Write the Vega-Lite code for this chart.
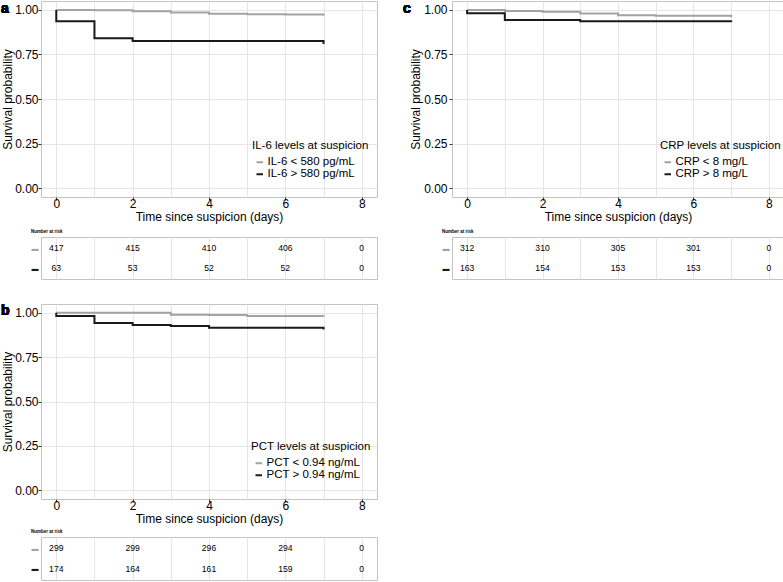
{
  "$schema": "https://vega.github.io/schema/vega-lite/v6.json",
  "padding": 0,
  "autosize": {"type": "pad"},
  "background": "white",
  "config": {
    "font": "Liberation Sans",
    "view": {"stroke": "#c4c4c4", "strokeWidth": 1},
    "axis": {"gridColor": "#e6e6e6", "gridWidth": 1, "domain": false, "tickColor": "#333333", "tickSize": 3, "labelColor": "#000000", "titleColor": "#000000", "labelFont": "Liberation Sans", "titleFont": "Liberation Sans", "labelFontSize": 12, "titleFontSize": 12, "titleFontWeight": "normal", "labelOverlap": false, "labelFlush": false},
    "legend": {"orient": "none", "padding": 0, "titleFont": "Liberation Sans", "labelFont": "Liberation Sans", "titleFontSize": 11.5, "labelFontSize": 11.5, "titleFontWeight": "normal", "titleColor": "#000000", "labelColor": "#000000", "symbolType": "stroke", "symbolStrokeWidth": 2, "symbolSize": 42, "rowPadding": -1.5, "titlePadding": 5, "labelOffset": 2, "symbolOffset": 2},
    "title": {"font": "Liberation Sans", "fontSize": 4.5, "fontWeight": "bold", "color": "#000000", "anchor": "start", "offset": 4}
  },
  "datasets": {
    "survA": [
      {"g": "IL-6 < 580 pg/mL", "t": 0, "s": 1.0, "i": 0},
      {"g": "IL-6 < 580 pg/mL", "t": 1, "s": 0.9976, "i": 1},
      {"g": "IL-6 < 580 pg/mL", "t": 2, "s": 0.993, "i": 2},
      {"g": "IL-6 < 580 pg/mL", "t": 3, "s": 0.985, "i": 3},
      {"g": "IL-6 < 580 pg/mL", "t": 4, "s": 0.978, "i": 4},
      {"g": "IL-6 < 580 pg/mL", "t": 5, "s": 0.975, "i": 5},
      {"g": "IL-6 < 580 pg/mL", "t": 6, "s": 0.9736, "i": 6},
      {"g": "IL-6 < 580 pg/mL", "t": 7, "s": 0.972, "i": 7},
      {"g": "IL-6 < 580 pg/mL", "t": 7, "s": 0.967, "i": 8},
      {"g": "IL-6 > 580 pg/mL", "t": 0, "s": 1.0, "i": 0},
      {"g": "IL-6 > 580 pg/mL", "t": 0, "s": 0.937, "i": 1},
      {"g": "IL-6 > 580 pg/mL", "t": 1, "s": 0.841, "i": 2},
      {"g": "IL-6 > 580 pg/mL", "t": 2, "s": 0.825, "i": 3},
      {"g": "IL-6 > 580 pg/mL", "t": 7, "s": 0.825, "i": 4},
      {"g": "IL-6 > 580 pg/mL", "t": 7, "s": 0.808, "i": 5}
    ],
    "riskA": [
      {"g": "IL-6 < 580 pg/mL", "t": 0, "n": 417},
      {"g": "IL-6 < 580 pg/mL", "t": 2, "n": 415},
      {"g": "IL-6 < 580 pg/mL", "t": 4, "n": 410},
      {"g": "IL-6 < 580 pg/mL", "t": 6, "n": 406},
      {"g": "IL-6 < 580 pg/mL", "t": 8, "n": 0},
      {"g": "IL-6 > 580 pg/mL", "t": 0, "n": 63},
      {"g": "IL-6 > 580 pg/mL", "t": 2, "n": 53},
      {"g": "IL-6 > 580 pg/mL", "t": 4, "n": 52},
      {"g": "IL-6 > 580 pg/mL", "t": 6, "n": 52},
      {"g": "IL-6 > 580 pg/mL", "t": 8, "n": 0}
    ],
    "survC": [
      {"g": "CRP < 8 mg/L", "t": 0, "s": 1.0, "i": 0},
      {"g": "CRP < 8 mg/L", "t": 1, "s": 0.9944, "i": 1},
      {"g": "CRP < 8 mg/L", "t": 2, "s": 0.989, "i": 2},
      {"g": "CRP < 8 mg/L", "t": 3, "s": 0.98, "i": 3},
      {"g": "CRP < 8 mg/L", "t": 4, "s": 0.97, "i": 4},
      {"g": "CRP < 8 mg/L", "t": 5, "s": 0.967, "i": 5},
      {"g": "CRP < 8 mg/L", "t": 7, "s": 0.967, "i": 6},
      {"g": "CRP < 8 mg/L", "t": 7, "s": 0.959, "i": 7},
      {"g": "CRP > 8 mg/L", "t": 0, "s": 1.0, "i": 0},
      {"g": "CRP > 8 mg/L", "t": 0, "s": 0.981, "i": 1},
      {"g": "CRP > 8 mg/L", "t": 1, "s": 0.944, "i": 2},
      {"g": "CRP > 8 mg/L", "t": 3, "s": 0.937, "i": 3},
      {"g": "CRP > 8 mg/L", "t": 7, "s": 0.937, "i": 4},
      {"g": "CRP > 8 mg/L", "t": 7, "s": 0.932, "i": 5}
    ],
    "riskC": [
      {"g": "CRP < 8 mg/L", "t": 0, "n": 312},
      {"g": "CRP < 8 mg/L", "t": 2, "n": 310},
      {"g": "CRP < 8 mg/L", "t": 4, "n": 305},
      {"g": "CRP < 8 mg/L", "t": 6, "n": 301},
      {"g": "CRP < 8 mg/L", "t": 8, "n": 0},
      {"g": "CRP > 8 mg/L", "t": 0, "n": 163},
      {"g": "CRP > 8 mg/L", "t": 2, "n": 154},
      {"g": "CRP > 8 mg/L", "t": 4, "n": 153},
      {"g": "CRP > 8 mg/L", "t": 6, "n": 153},
      {"g": "CRP > 8 mg/L", "t": 8, "n": 0}
    ],
    "survB": [
      {"g": "PCT < 0.94 ng/mL", "t": 0, "s": 1.0, "i": 0},
      {"g": "PCT < 0.94 ng/mL", "t": 3, "s": 0.99, "i": 1},
      {"g": "PCT < 0.94 ng/mL", "t": 4, "s": 0.988, "i": 2},
      {"g": "PCT < 0.94 ng/mL", "t": 5, "s": 0.983, "i": 3},
      {"g": "PCT < 0.94 ng/mL", "t": 7, "s": 0.983, "i": 4},
      {"g": "PCT < 0.94 ng/mL", "t": 7, "s": 0.979, "i": 5},
      {"g": "PCT > 0.94 ng/mL", "t": 0, "s": 1.0, "i": 0},
      {"g": "PCT > 0.94 ng/mL", "t": 0, "s": 0.983, "i": 1},
      {"g": "PCT > 0.94 ng/mL", "t": 1, "s": 0.943, "i": 2},
      {"g": "PCT > 0.94 ng/mL", "t": 2, "s": 0.931, "i": 3},
      {"g": "PCT > 0.94 ng/mL", "t": 3, "s": 0.926, "i": 4},
      {"g": "PCT > 0.94 ng/mL", "t": 4, "s": 0.916, "i": 5},
      {"g": "PCT > 0.94 ng/mL", "t": 7, "s": 0.916, "i": 6},
      {"g": "PCT > 0.94 ng/mL", "t": 7, "s": 0.906, "i": 7}
    ],
    "riskB": [
      {"g": "PCT < 0.94 ng/mL", "t": 0, "n": 299},
      {"g": "PCT < 0.94 ng/mL", "t": 2, "n": 299},
      {"g": "PCT < 0.94 ng/mL", "t": 4, "n": 296},
      {"g": "PCT < 0.94 ng/mL", "t": 6, "n": 294},
      {"g": "PCT < 0.94 ng/mL", "t": 8, "n": 0},
      {"g": "PCT > 0.94 ng/mL", "t": 0, "n": 174},
      {"g": "PCT > 0.94 ng/mL", "t": 2, "n": 164},
      {"g": "PCT > 0.94 ng/mL", "t": 4, "n": 161},
      {"g": "PCT > 0.94 ng/mL", "t": 6, "n": 159},
      {"g": "PCT > 0.94 ng/mL", "t": 8, "n": 0}
    ]
  },
  "resolve": {"scale": {"x": "independent", "y": "independent", "color": "independent"}, "legend": {"color": "independent"}},
  "align": "each",
  "spacing": 23,
  "vconcat": [
    {
      "resolve": {"scale": {"x": "independent", "y": "independent", "color": "independent"}, "legend": {"color": "independent"}},
      "align": "each",
      "spacing": 24,
      "hconcat": [
        {
          "resolve": {"scale": {"x": "independent", "y": "independent", "color": "independent"}, "legend": {"color": "independent"}},
          "align": "each",
          "spacing": 5,
          "vconcat": [
            {
              "width": 336, "height": 196,
              "data": {"name": "survA"},
              "layer": [
                {
                  "mark": {"type": "line", "interpolate": "step-after", "strokeWidth": 2},
                  "encoding": {
                    "x": {"field": "t", "type": "quantitative", "scale": {"domain": [-0.4, 8.4], "nice": false, "zero": false},
                      "axis": {"values": [0,1,2,3,4,5,6,7,8], "labelExpr": "datum.value % 2 == 0 ? datum.label : ''", "tickOpacity": {"condition": {"test": "datum.value % 2 == 1", "value": 0}, "value": 1}, "labelPadding": -1.5, "titlePadding": 2, "title": "Time since suspicion (days)"}},
                    "y": {"field": "s", "type": "quantitative", "scale": {"domain": [-0.05, 1.05], "nice": false, "zero": false},
                      "axis": {"values": [0,0.125,0.25,0.375,0.5,0.625,0.75,0.875,1], "format": ".2f", "labelExpr": "(datum.value*4) % 1 == 0 ? datum.label : ''", "tickOpacity": {"condition": {"test": "(datum.value*4) % 1 != 0", "value": 0}, "value": 1}, "labelPadding": 0, "titlePadding": 0, "title": "Survival probability"}},
                    "color": {"field": "g", "type": "nominal", "scale": {"domain": ["IL-6 < 580 pg/mL", "IL-6 > 580 pg/mL"], "range": ["#a3a3a3", "#1a1a1a"]},
                      "legend": {"title": "IL-6 levels at suspicion", "legendX": 211, "legendY": 139}},
                    "order": {"field": "i", "type": "quantitative"}
                  }
                },
                {
                  "mark": {"type": "text", "text": "a", "fontSize": 14, "fontWeight": "bold", "align": "left", "baseline": "alphabetic", "dx": -40, "dy": 12, "color": "#000000"},
                  "encoding": {"x": {"datum": -0.4}, "y": {"datum": 1.05}}
                }
              ]
            },
            {
              "width": 336, "height": 42,
              "title": {"text": "Number at risk"},
              "data": {"name": "riskA"},
              "mark": {"type": "text", "fontSize": 8.6, "color": "#000000"},
              "encoding": {
                "x": {"field": "t", "type": "quantitative", "scale": {"domain": [-0.4, 8.4], "nice": false, "zero": false},
                  "axis": {"values": [0,1,2,3,4,5,6,7,8], "labels": false, "ticks": false, "title": null}},
                "y": {"field": "g", "type": "nominal", "scale": {"type": "point", "padding": 0.55, "domain": ["IL-6 < 580 pg/mL", "IL-6 > 580 pg/mL"]},
                  "axis": {"labelExpr": "'▬'", "labelFontSize": 7, "labelColor": {"condition": {"test": "indexof(datum.value, '<') >= 0", "value": "#a3a3a3"}, "value": "#1a1a1a"}, "ticks": false, "labelPadding": 3, "title": null}},
                "text": {"field": "n", "type": "quantitative"}
              }
            }
          ]
        },
        {
          "resolve": {"scale": {"x": "independent", "y": "independent", "color": "independent"}, "legend": {"color": "independent"}},
          "align": "each",
          "spacing": 5,
          "vconcat": [
            {
              "width": 332, "height": 196,
              "data": {"name": "survC"},
              "layer": [
                {
                  "mark": {"type": "line", "interpolate": "step-after", "strokeWidth": 2},
                  "encoding": {
                    "x": {"field": "t", "type": "quantitative", "scale": {"domain": [-0.4, 8.4], "nice": false, "zero": false},
                      "axis": {"values": [0,1,2,3,4,5,6,7,8], "labelExpr": "datum.value % 2 == 0 ? datum.label : ''", "tickOpacity": {"condition": {"test": "datum.value % 2 == 1", "value": 0}, "value": 1}, "labelPadding": -1.5, "titlePadding": 2, "title": "Time since suspicion (days)"}},
                    "y": {"field": "s", "type": "quantitative", "scale": {"domain": [-0.05, 1.05], "nice": false, "zero": false},
                      "axis": {"values": [0,0.125,0.25,0.375,0.5,0.625,0.75,0.875,1], "format": ".2f", "labelExpr": "(datum.value*4) % 1 == 0 ? datum.label : ''", "tickOpacity": {"condition": {"test": "(datum.value*4) % 1 != 0", "value": 0}, "value": 1}, "labelPadding": 2, "titlePadding": 1, "title": "Survival probability"}},
                    "color": {"field": "g", "type": "nominal", "scale": {"domain": ["CRP < 8 mg/L", "CRP > 8 mg/L"], "range": ["#a3a3a3", "#1a1a1a"]},
                      "legend": {"title": "CRP levels at suspicion", "legendX": 208, "legendY": 139}},
                    "order": {"field": "i", "type": "quantitative"}
                  }
                },
                {
                  "mark": {"type": "text", "text": "c", "fontSize": 14, "fontWeight": "bold", "align": "left", "baseline": "alphabetic", "dx": -49, "dy": 12, "color": "#000000"},
                  "encoding": {"x": {"datum": -0.4}, "y": {"datum": 1.05}}
                }
              ]
            },
            {
              "width": 332, "height": 42,
              "title": {"text": "Number at risk"},
              "data": {"name": "riskC"},
              "mark": {"type": "text", "fontSize": 8.6, "color": "#000000"},
              "encoding": {
                "x": {"field": "t", "type": "quantitative", "scale": {"domain": [-0.4, 8.4], "nice": false, "zero": false},
                  "axis": {"values": [0,1,2,3,4,5,6,7,8], "labels": false, "ticks": false, "title": null}},
                "y": {"field": "g", "type": "nominal", "scale": {"type": "point", "padding": 0.55, "domain": ["CRP < 8 mg/L", "CRP > 8 mg/L"]},
                  "axis": {"labelExpr": "'▬'", "labelFontSize": 7, "labelColor": {"condition": {"test": "indexof(datum.value, '<') >= 0", "value": "#a3a3a3"}, "value": "#1a1a1a"}, "ticks": false, "labelPadding": 3, "title": null}},
                "text": {"field": "n", "type": "quantitative"}
              }
            }
          ]
        }
      ]
    },
    {
      "resolve": {"scale": {"x": "independent", "y": "independent", "color": "independent"}, "legend": {"color": "independent"}},
      "align": "each",
      "spacing": 3,
      "vconcat": [
        {
          "width": 336, "height": 195,
          "data": {"name": "survB"},
          "layer": [
            {
              "mark": {"type": "line", "interpolate": "step-after", "strokeWidth": 2},
              "encoding": {
                "x": {"field": "t", "type": "quantitative", "scale": {"domain": [-0.4, 8.4], "nice": false, "zero": false},
                  "axis": {"values": [0,1,2,3,4,5,6,7,8], "labelExpr": "datum.value % 2 == 0 ? datum.label : ''", "tickOpacity": {"condition": {"test": "datum.value % 2 == 1", "value": 0}, "value": 1}, "labelPadding": -1.5, "titlePadding": 2, "title": "Time since suspicion (days)"}},
                "y": {"field": "s", "type": "quantitative", "scale": {"domain": [-0.05, 1.05], "nice": false, "zero": false},
                  "axis": {"values": [0,0.125,0.25,0.375,0.5,0.625,0.75,0.875,1], "format": ".2f", "labelExpr": "(datum.value*4) % 1 == 0 ? datum.label : ''", "tickOpacity": {"condition": {"test": "(datum.value*4) % 1 != 0", "value": 0}, "value": 1}, "labelPadding": 0, "titlePadding": 0, "title": "Survival probability"}},
                "color": {"field": "g", "type": "nominal", "scale": {"domain": ["PCT < 0.94 ng/mL", "PCT > 0.94 ng/mL"], "range": ["#a3a3a3", "#1a1a1a"]},
                  "legend": {"title": "PCT levels at suspicion", "legendX": 210, "legendY": 137}},
                "order": {"field": "i", "type": "quantitative"}
              }
            },
            {
              "mark": {"type": "text", "text": "b", "fontSize": 14, "fontWeight": "bold", "align": "left", "baseline": "alphabetic", "dx": -40, "dy": 11, "color": "#000000"},
              "encoding": {"x": {"datum": -0.4}, "y": {"datum": 1.05}}
            }
          ]
        },
        {
          "width": 336, "height": 43,
          "title": {"text": "Number at risk"},
          "data": {"name": "riskB"},
          "mark": {"type": "text", "fontSize": 8.6, "color": "#000000"},
          "encoding": {
            "x": {"field": "t", "type": "quantitative", "scale": {"domain": [-0.4, 8.4], "nice": false, "zero": false},
              "axis": {"values": [0,1,2,3,4,5,6,7,8], "labels": false, "ticks": false, "title": null}},
            "y": {"field": "g", "type": "nominal", "scale": {"type": "point", "padding": 0.55, "domain": ["PCT < 0.94 ng/mL", "PCT > 0.94 ng/mL"]},
              "axis": {"labelExpr": "'▬'", "labelFontSize": 7, "labelColor": {"condition": {"test": "indexof(datum.value, '<') >= 0", "value": "#a3a3a3"}, "value": "#1a1a1a"}, "ticks": false, "labelPadding": 3, "title": null}},
            "text": {"field": "n", "type": "quantitative"}
          }
        }
      ]
    }
  ]
}
